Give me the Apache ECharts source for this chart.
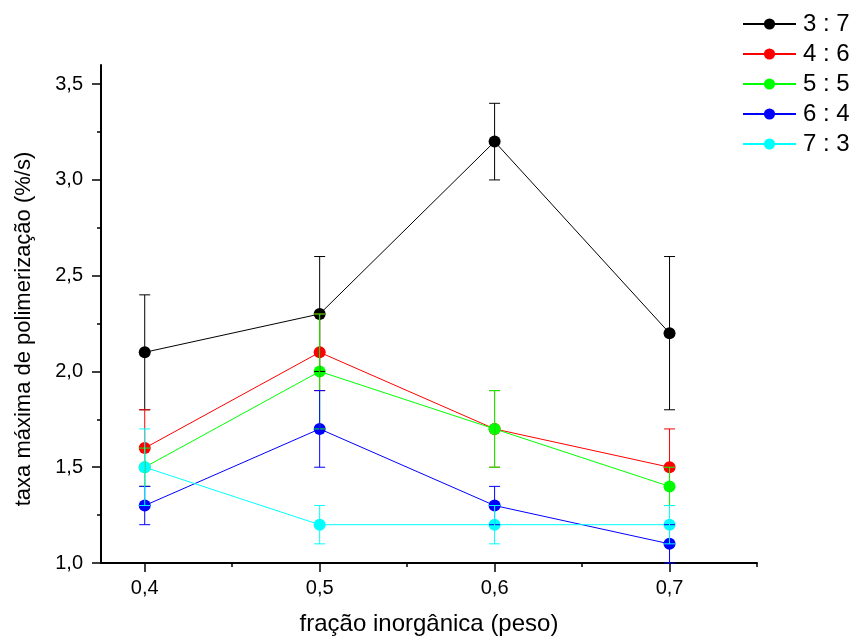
<!DOCTYPE html>
<html>
<head>
<meta charset="utf-8">
<script src="https://cdn.jsdelivr.net/npm/echarts@6/dist/echarts.min.js"></script>
<style>html,body{margin:0;padding:0;background:#fff}#c{width:854px;height:641px}</style>
</head>
<body>
<div id="c"></div>
<script>
const xValues = [0.4, 0.5, 0.6, 0.7];
const seriesNames = ['3 : 7', '4 : 6', '5 : 5', '6 : 4', '7 : 3'];
const seriesColors = ['#000000', '#ff0000', '#00ff00', '#0000ff', '#00ffff'];
const s37 = [2.1, 2.3, 3.2, 2.2];
const e37 = [0.3, 0.3, 0.2, 0.4];
const s46 = [1.6, 2.1, 1.7, 1.5];
const e46 = [0.2, 0.2, 0.2, 0.2];
const s55 = [1.5, 2.0, 1.7, 1.4];
const e55 = [0.1, 0.3, 0.2, 0.1];
const s64 = [1.3, 1.7, 1.3, 1.1];
const e64 = [0.1, 0.2, 0.1, 0.1];
const s73 = [1.5, 1.2, 1.2, 1.2];
const e73 = [0.2, 0.1, 0.1, 0.1];
const xMajorTicks = [0.4, 0.5, 0.6, 0.7];
const xMinorTicks = [0.45, 0.55, 0.65, 0.75];
const yMajorTicks = [1.0, 1.5, 2.0, 2.5, 3.0, 3.5];
const yMinorTicks = [1.25, 1.75, 2.25, 2.75, 3.25];
const xTitle = 'fração inorgânica (peso)';
const yTitle = 'taxa máxima de polimerização (%/s)';

const values = [s37, s46, s55, s64, s73];
const errors = [e37, e46, e55, e64, e73];
const FONT = 'Liberation Sans, Arial, sans-serif';
const fmt = v => v.toFixed(1).replace('.', ',');

const lineSeries = values.map((vals, i) => ({
  name: seriesNames[i],
  type: 'line',
  data: vals.map((v, j) => [xValues[j], v]),
  symbol: 'circle',
  symbolSize: 12,
  color: seriesColors[i],
  lineStyle: { width: 1, color: seriesColors[i] },
  itemStyle: { color: seriesColors[i] },
  z: 3,
  animation: false
}));

const errSeries = values.map((vals, i) => ({
  name: 'err' + i,
  type: 'custom',
  data: vals.map((v, j) => [xValues[j], v - errors[i][j], v + errors[i][j]]),
  renderItem: function (params, api) {
    const lo = api.coord([api.value(0), api.value(1)]);
    const hi = api.coord([api.value(0), api.value(2)]);
    const hw = 5.5;
    const st = { stroke: seriesColors[i], lineWidth: 1 };
    return {
      type: 'group',
      children: [
        { type: 'line', shape: { x1: lo[0], y1: lo[1], x2: hi[0], y2: hi[1] }, style: st },
        { type: 'line', shape: { x1: lo[0] - hw, y1: lo[1], x2: lo[0] + hw, y2: lo[1] }, style: st },
        { type: 'line', shape: { x1: hi[0] - hw, y1: hi[1], x2: hi[0] + hw, y2: hi[1] }, style: st }
      ]
    };
  },
  encode: { x: 0, y: [1, 2] },
  z: 4,
  silent: true,
  animation: false
}));

const chart = echarts.init(document.getElementById('c'));
chart.setOption({
  backgroundColor: '#ffffff',
  animation: false,
  textStyle: { fontFamily: FONT },
  grid: { left: 101, right: 97, top: 65, bottom: 78, containLabel: false },
  legend: {
    data: seriesNames,
    orient: 'vertical',
    left: 737,
    top: 7,
    itemWidth: 53,
    itemHeight: 14,
    itemGap: 6,
    textStyle: { fontSize: 24, color: '#000', fontFamily: FONT, lineHeight: 24, padding: [0, 0, 0, 2] },
    selectedMode: false
  },
  xAxis: [{
    type: 'value', min: 0.375, max: 0.75,
    name: xTitle, nameLocation: 'middle', nameGap: 49,
    nameTextStyle: { fontSize: 24, color: '#000', fontFamily: FONT },
    axisLine: { show: true, onZero: false, lineStyle: { color: '#000', width: 2 } },
    axisTick: { show: true, customValues: xMajorTicks, length: 9, lineStyle: { color: '#000', width: 1.5 } },
    axisLabel: { customValues: xMajorTicks, formatter: fmt, fontSize: 20, color: '#000', margin: 15, fontFamily: FONT },
    splitLine: { show: false }
  }, {
    type: 'value', min: 0.375, max: 0.75, position: 'bottom',
    axisLine: { show: false },
    axisTick: { show: true, customValues: xMinorTicks, length: 4, lineStyle: { color: '#000', width: 1.5 } },
    axisLabel: { show: false },
    splitLine: { show: false }
  }],
  yAxis: [{
    type: 'value', min: 1.0, max: 3.6,
    name: yTitle, nameLocation: 'middle', nameGap: 66,
    nameTextStyle: { fontSize: 22, color: '#000', fontFamily: FONT, padding: [0, 30, 0, 0] },
    axisLine: { show: true, onZero: false, lineStyle: { color: '#000', width: 2 } },
    axisTick: { show: true, customValues: yMajorTicks, length: 9, lineStyle: { color: '#000', width: 1.5 } },
    axisLabel: { customValues: yMajorTicks, formatter: fmt, fontSize: 20, color: '#000', margin: 18, fontFamily: FONT },
    splitLine: { show: false }
  }, {
    type: 'value', min: 1.0, max: 3.6, position: 'left',
    axisLine: { show: false },
    axisTick: { show: true, customValues: yMinorTicks, length: 4, lineStyle: { color: '#000', width: 1.5 } },
    axisLabel: { show: false },
    splitLine: { show: false }
  }],
  series: lineSeries.concat(errSeries)
});
</script>
</body>
</html>
